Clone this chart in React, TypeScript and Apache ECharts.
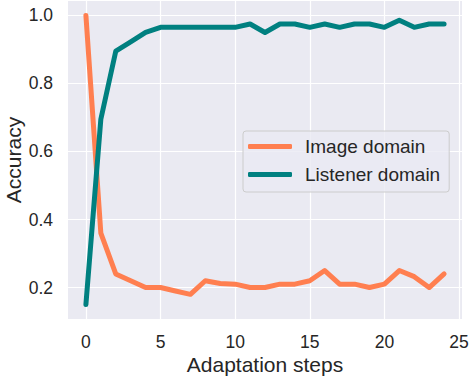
import React, { useEffect, useRef } from "react";
import * as echarts from "echarts";

const steps = Array.from({ length: 25 }, (_, i) => i);
const imageDomain = [1.0, 0.36, 0.24, 0.22, 0.2, 0.2, 0.19, 0.18, 0.22, 0.212, 0.21, 0.2, 0.2, 0.21, 0.21, 0.22, 0.25, 0.21, 0.21, 0.2, 0.21, 0.25, 0.232, 0.2, 0.24];
const listenerDomain = [0.15, 0.695, 0.895, 0.922, 0.95, 0.965, 0.965, 0.965, 0.965, 0.965, 0.965, 0.975, 0.95, 0.975, 0.975, 0.965, 0.975, 0.965, 0.975, 0.975, 0.965, 0.986, 0.965, 0.975, 0.975];
const xTicks = [0, 5, 10, 15, 20, 25];
const yTicks = [0.2, 0.4, 0.6, 0.8, 1.0];

const FONT = "'Liberation Sans', Arial, sans-serif";

export default function App() {
  const ref = useRef<HTMLDivElement>(null);
  useEffect(() => {
    if (!ref.current) return;
    const chart = echarts.init(ref.current, null, { renderer: "svg" });
    chart.setOption({
      animation: false,
      backgroundColor: "#ffffff",
      grid: {
        left: 68,
        right: 8,
        top: 1,
        bottom: 57,
        show: true,
        containLabel: false,
        outerBoundsMode: "none",
        backgroundColor: "#eaeaf2",
        borderWidth: 0,
      },
      legend: {
        orient: "vertical",
        left: 243,
        top: 131,
        backgroundColor: "rgba(234,234,242,0.8)",
        borderColor: "#cccccc",
        borderWidth: 1,
        borderRadius: 3,
        padding: [6, 9, 8, 5],
        itemGap: 9,
        itemWidth: 44,
        itemHeight: 5,
        icon: "roundRect",
        textStyle: {
          fontFamily: FONT,
          fontSize: 19,
          color: "#262626",
          lineHeight: 18,
          padding: [0, 0, 0, 8],
        },
        data: ["Image domain", "Listener domain"],
      },
      xAxis: {
        type: "value",
        min: -1.2,
        max: 25.2,
        name: "Adaptation steps",
        nameLocation: "middle",
        nameGap: 35,
        nameMoveOverlap: false,
        nameTextStyle: { fontFamily: FONT, fontSize: 21, color: "#262626" },
        axisLine: { show: false },
        axisTick: { show: false, customValues: xTicks },
        axisLabel: {
          customValues: xTicks,
          fontFamily: FONT,
          fontSize: 17.5,
          color: "#262626",
          margin: 14,
        },
        splitLine: { show: true, lineStyle: { color: "#ffffff", width: 1.2 } },
      },
      yAxis: {
        type: "value",
        min: 0.1075,
        max: 1.0425,
        name: "Accuracy",
        nameLocation: "middle",
        nameGap: 44,
        nameMoveOverlap: false,
        nameTextStyle: { fontFamily: FONT, fontSize: 21, color: "#262626" },
        axisLine: { show: false },
        axisTick: { show: false, customValues: yTicks },
        axisLabel: {
          customValues: yTicks,
          formatter: (v: number) => v.toFixed(1),
          fontFamily: FONT,
          fontSize: 17.5,
          color: "#262626",
          margin: 15,
        },
        splitLine: { show: true, lineStyle: { color: "#ffffff", width: 1.2 } },
      },
      series: [
        {
          name: "Image domain",
          type: "line",
          data: steps.map((s, i) => [s, imageDomain[i]]),
          showSymbol: false,
          symbol: "none",
          itemStyle: { color: "#ff7f50" },
          lineStyle: { color: "#ff7f50", width: 5, join: "round", cap: "round" },
        },
        {
          name: "Listener domain",
          type: "line",
          data: steps.map((s, i) => [s, listenerDomain[i]]),
          showSymbol: false,
          symbol: "none",
          itemStyle: { color: "#008080" },
          lineStyle: { color: "#008080", width: 5, join: "round", cap: "round" },
        },
      ],
    });
    return () => chart.dispose();
  }, []);
  return <div ref={ref} style={{ width: 470, height: 376, position: "absolute", left: 0, top: 0 }} />;
}
